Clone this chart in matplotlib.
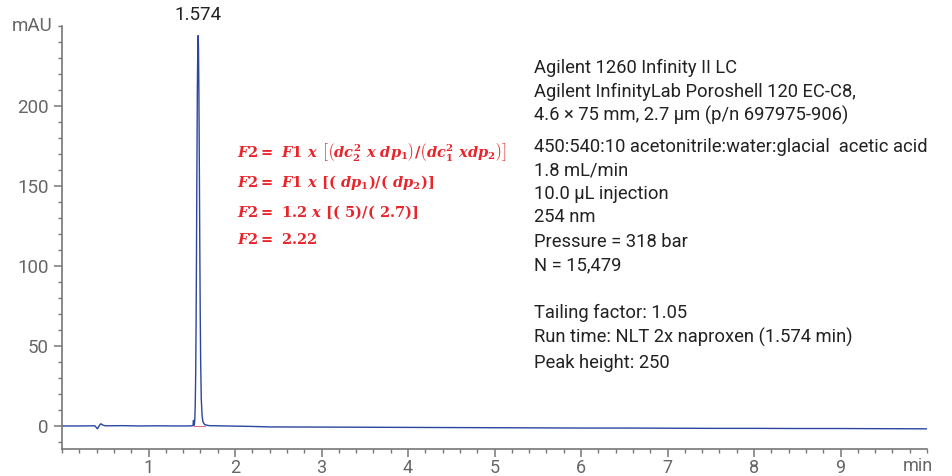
import matplotlib.pyplot as plt
from matplotlib.ticker import MultipleLocator

# chromatogram trace (time in min, signal in mAU)
time_min = [0.0, 0.20, 0.38, 0.41, 0.43, 0.45, 0.47, 0.50, 0.70, 0.90, 1.10, 1.30, 1.45, 1.50,
            1.515, 1.52, 1.525, 1.53, 1.535, 1.54, 1.545, 1.55, 1.555, 1.56, 1.565, 1.57,
            1.574, 1.578, 1.583, 1.588, 1.593, 1.598, 1.603, 1.61, 1.62, 1.63, 1.65, 1.70,
            1.90, 2.20, 2.40, 3.0, 3.5, 4.0, 4.5, 5.0, 5.5, 6.0, 6.5, 7.0, 7.5, 8.0, 8.5,
            9.0, 9.5, 10.0]
signal_mau = [0.0, 0.0, 0.1, -1.8, 0.2, 1.4, 0.6, 0.1, 0.2, 0.0, 0.1, 0.0, 0.0, 0.1,
              0.2, 3.5, 0.4, 1.2, 4.0, 12, 30, 62, 110, 165, 212, 238,
              244, 236, 205, 160, 112, 70, 40, 17, 6, 2.5, 0.8, 0.2,
              0.0, -0.3, -0.6, -0.7, -0.8, -0.9, -1.0, -1.1, -1.2, -1.3, -1.3, -1.4, -1.5, -1.5, -1.6,
              -1.6, -1.7, -1.8]

peak_rt = 1.574
peak_height = 244
integration_start, integration_end = 1.53, 1.65

y_ticks = [0, 50, 100, 150, 200]
x_ticks = [1, 2, 3, 4, 5, 6, 7, 8, 9]

conditions = [
    "Agilent 1260 Infinity II LC",
    "Agilent InfinityLab Poroshell 120 EC-C8,",
    "4.6 \u00d7 75 mm, 2.7 \u00b5m (p/n 697975-906)",
    "450:540:10 acetonitrile:water:glacial  acetic acid",
    "1.8 mL/min",
    "10.0 \u00b5L injection",
    "254 nm",
    "Pressure = 318 bar",
    "N = 15,479",
    "Tailing factor: 1.05",
    "Run time: NLT 2x naproxen (1.574 min)",
    "Peak height: 250",
]
condition_y_px = [68, 92, 115, 147, 170, 194, 217, 242, 265, 313, 337, 363]

formulas = [
    r"$F2 = \ F1\ x\ \left[\left(dc_2^2\ x\ dp_1\right)/\left(dc_1^2\ xdp_2\right)\right]$",
    r"$F2 = \ F1\ x\ [(\ dp_1)/(\ dp_2)]$",
    r"$F2 = \ 1.2\ x\ [(\ 5)/(\ 2.7)]$",
    r"$F2 = \ 2.22$",
]
formula_y_px = [152, 182, 212, 240]

plt.rcParams['font.family'] = ['Roboto', 'DejaVu Sans']
plt.rcParams['mathtext.fontset'] = 'custom'
plt.rcParams['mathtext.rm'] = 'DejaVu Serif:bold'
plt.rcParams['mathtext.it'] = 'DejaVu Serif:italic:bold'
plt.rcParams['mathtext.bf'] = 'DejaVu Serif:bold'

W, H = 953, 476
fig = plt.figure(figsize=(W / 100, H / 100), dpi=100)
ax = fig.add_axes([62 / W, 1 - 449 / H, (927 - 62) / W, (449 - 26) / H])

ax.plot(time_min, signal_mau, color='#2b45a0', lw=1.0)
ax.plot([integration_start, integration_end], [0, 0], color='#e07090', lw=0.8)

ax.set_xlim(0, 10)
ax.set_ylim(-14.4, 250)

grey = '#777777'
for side in ['top', 'right']:
    ax.spines[side].set_visible(False)
for side in ['left', 'bottom']:
    ax.spines[side].set_color(grey)
    ax.spines[side].set_linewidth(1.2)

ax.set_xticks(x_ticks)
ax.set_yticks(y_ticks)
ax.xaxis.set_minor_locator(MultipleLocator(0.2))
ax.yaxis.set_minor_locator(MultipleLocator(10))
ax.tick_params(which='major', direction='out', length=6, width=1.1, color=grey,
               labelcolor='#666666', labelsize=13.5)
ax.tick_params(which='minor', direction='out', length=3, width=1.0, color=grey)
ax.tick_params(axis='x', which='major', pad=1.5, labelsize=13)

fig.text(53 / W, 1 - 26 / H, "mAU", ha='right', va='center', color='#666666', fontsize=13.5)
fig.text(918 / W, 1 - 466 / H, "min", ha='center', va='center', color='#666666', fontsize=13)

ax.annotate(f"{peak_rt:.3f}", xy=(peak_rt, peak_height), xytext=(0, 8),
            textcoords='offset points', ha='center', va='bottom', fontsize=13.5, color='#222222')

for line, ypx in zip(conditions, condition_y_px):
    fig.text(534 / W, 1 - ypx / H, line, ha='left', va='center', fontsize=13.2, color='#222222')

for line, ypx in zip(formulas, formula_y_px):
    fig.text(237 / W, 1 - ypx / H, line, ha='left', va='center', fontsize=10.5, color='#e8252b')

fig.savefig('out.png', dpi=100)
